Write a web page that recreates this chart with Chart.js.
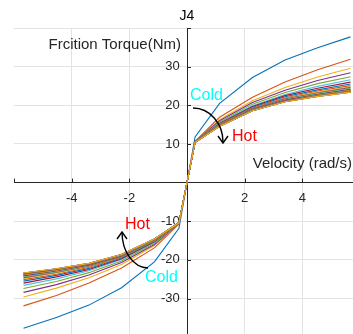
<!DOCTYPE html>
<html>
<head>
<meta charset="utf-8">
<script src="https://cdn.jsdelivr.net/npm/chart.js@4"></script>
<style>
  body { margin: 0; background: #fff; }
  .wrap { width: 353px; height: 334px; overflow: hidden; position: relative; }
  canvas { position: absolute; left: 0; top: 0; }
</style>
</head>
<body>
<div class="wrap"><canvas id="myChart" width="368" height="351"></canvas></div>
<script>
// velocity samples (rad/s)
const velocity = [-5.67, -4.53, -3.4, -2.27, -1.13, -0.28, 0, 0.28, 1.13, 2.27, 3.4, 4.53, 5.67];

// friction torque curves, first = cold ... last = hot
const torque = [
  [-37.7, -34.9, -31.7, -27.2, -20.5, -11.8, 0, 11.8, 20.5, 27.2, 31.7, 34.9, 37.7],
  [-31.9, -29.2, -26.0, -22.1, -16.9, -10.7, 0, 10.7, 16.9, 22.1, 26.0, 29.2, 31.9],
  [-29.6, -27.3, -24.6, -21.2, -16.3, -10.6, 0, 10.6, 16.3, 21.2, 24.6, 27.3, 29.6],
  [-28.4, -26.4, -23.9, -20.7, -16.0, -10.6, 0, 10.6, 16.0, 20.7, 23.9, 26.4, 28.4],
  [-27.4, -25.6, -23.3, -20.3, -15.7, -10.5, 0, 10.5, 15.7, 20.3, 23.3, 25.6, 27.4],
  [-26.6, -24.9, -22.8, -19.9, -15.5, -10.5, 0, 10.5, 15.5, 19.9, 22.8, 24.9, 26.6],
  [-26.0, -24.4, -22.5, -19.7, -15.3, -10.5, 0, 10.5, 15.3, 19.7, 22.5, 24.4, 26.0],
  [-25.5, -24.0, -22.2, -19.5, -15.2, -10.5, 0, 10.5, 15.2, 19.5, 22.2, 24.0, 25.5],
  [-25.1, -23.7, -21.9, -19.3, -15.1, -10.5, 0, 10.5, 15.1, 19.3, 21.9, 23.7, 25.1],
  [-24.8, -23.4, -21.7, -19.2, -15.0, -10.5, 0, 10.5, 15.0, 19.2, 21.7, 23.4, 24.8],
  [-24.6, -23.2, -21.6, -19.1, -14.9, -10.4, 0, 10.4, 14.9, 19.1, 21.6, 23.2, 24.6],
  [-24.4, -23.1, -21.5, -19.0, -14.9, -10.4, 0, 10.4, 14.9, 19.0, 21.5, 23.1, 24.4],
  [-24.2, -22.9, -21.4, -18.9, -14.8, -10.4, 0, 10.4, 14.8, 18.9, 21.4, 22.9, 24.2],
  [-24.1, -22.8, -21.3, -18.9, -14.8, -10.4, 0, 10.4, 14.8, 18.9, 21.3, 22.8, 24.1],
  [-24.0, -22.7, -21.2, -18.8, -14.7, -10.4, 0, 10.4, 14.7, 18.8, 21.2, 22.7, 24.0],
  [-23.9, -22.7, -21.2, -18.8, -14.7, -10.4, 0, 10.4, 14.7, 18.8, 21.2, 22.7, 23.9],
  [-23.8, -22.6, -21.1, -18.7, -14.7, -10.4, 0, 10.4, 14.7, 18.7, 21.1, 22.6, 23.8],
  [-23.7, -22.5, -21.1, -18.7, -14.7, -10.4, 0, 10.4, 14.7, 18.7, 21.1, 22.5, 23.7],
  [-23.6, -22.5, -21.0, -18.7, -14.7, -10.4, 0, 10.4, 14.7, 18.7, 21.0, 22.5, 23.6],
  [-23.5, -22.4, -21.0, -18.7, -14.6, -10.4, 0, 10.4, 14.6, 18.7, 21.0, 22.4, 23.5],
  [-23.5, -22.4, -21.0, -18.6, -14.6, -10.4, 0, 10.4, 14.6, 18.6, 21.0, 22.4, 23.5],
  [-23.4, -22.3, -20.9, -18.6, -14.6, -10.4, 0, 10.4, 14.6, 18.6, 20.9, 22.3, 23.4],
  [-23.4, -22.3, -20.9, -18.6, -14.6, -10.4, 0, 10.4, 14.6, 18.6, 20.9, 22.3, 23.4],
  [-23.4, -22.3, -20.9, -18.6, -14.6, -10.4, 0, 10.4, 14.6, 18.6, 20.9, 22.3, 23.4]
];

const xTicks = [-4, -2, 2, 4];
const yTicks = [-30, -20, -10, 10, 20, 30];

// matlab default line colours
const colors = ['#0072BD', '#D95319', '#EDB120', '#7E2F8E', '#77AC30', '#4DBEEE', '#A2142F'];
const axisColor = '#262626';
const font = '"Liberation Sans", Arial, sans-serif';

const datasets = torque.map((vals, i) => ({
  label: 'T' + i,
  data: velocity.map((v, j) => ({ x: v, y: vals[j] })),
  borderColor: colors[i % colors.length],
  borderWidth: 1.1,
  pointRadius: 0,
  tension: 0,
  fill: false,
  order: torque.length - 1 - i
}));

// texts, arrows and inward tick marks
const extras = {
  id: 'extras',
  beforeDatasetsDraw(chart) {
    const c = chart.ctx, xs = chart.scales.x, ys = chart.scales.y;
    const x0 = xs.getPixelForValue(0), y0 = ys.getPixelForValue(0);
    c.save();
    c.strokeStyle = axisColor;
    c.lineWidth = 1;
    c.beginPath();
    xs.ticks.forEach(t => {
      if (t.value === 0) return;
      const px = Math.round(xs.getPixelForValue(t.value)) + 0.5;
      c.moveTo(px, y0); c.lineTo(px, y0 - 4);
    });
    ys.ticks.forEach(t => {
      if (t.value === 0) return;
      const py = Math.round(ys.getPixelForValue(t.value)) + 0.5;
      c.moveTo(x0, py); c.lineTo(x0 + 4, py);
    });
    c.stroke();
    c.restore();
  },
  afterDraw(chart) {
    const c = chart.ctx;
    c.save();
    c.textBaseline = 'middle';
    c.fillStyle = '#000';
    c.font = '14px ' + font;
    c.textAlign = 'center';
    c.fillText('J4', 187, 16);

    c.fillStyle = axisColor;
    c.font = '15px ' + font;
    c.textAlign = 'right';
    c.fillText('Frcition Torque(Nm)', 181, 45);
    c.fillText('Velocity (rad/s)', 352, 164);

    c.font = '16px ' + font;
    c.textAlign = 'left';
    c.fillStyle = '#00FFFF';
    c.fillText('Cold', 190, 96);
    c.fillText('Cold', 145, 278);
    c.fillStyle = '#FF0000';
    c.fillText('Hot', 232, 137);
    c.fillText('Hot', 125, 225);

    c.strokeStyle = '#000';
    c.lineWidth = 1.4;
    // upper arrow, cold -> hot
    c.beginPath();
    c.ellipse(193, 142, 30, 34, 0, -Math.PI / 2, 0);
    c.stroke();
    c.beginPath();
    c.moveTo(218, 136); c.lineTo(223, 143); c.lineTo(228, 136);
    c.stroke();
    // lower arrow, cold -> hot
    c.beginPath();
    c.ellipse(148, 232, 26, 36, 0, Math.PI / 2, Math.PI);
    c.stroke();
    c.beginPath();
    c.moveTo(117, 239); c.lineTo(122, 232); c.lineTo(127, 239);
    c.stroke();
    c.restore();
  }
};

new Chart(document.getElementById('myChart'), {
  type: 'line',
  data: { datasets },
  options: {
    responsive: false,
    animation: false,
    devicePixelRatio: 1,
    layout: { padding: { left: 14, top: 28, right: 1.5, bottom: 2 } },
    plugins: { legend: { display: false }, tooltip: { enabled: false } },
    scales: {
      x: {
        type: 'linear',
        position: { y: 0 },
        min: -6, max: 6,
        ticks: {
          stepSize: 2,
          color: axisColor,
          font: { family: font, size: 13 },
          padding: 8,
          maxRotation: 0,
          callback: v => xTicks.includes(v) ? String(v) : ''
        },
        grid: {
          drawTicks: false,
          color: ctx => (ctx.tick && Math.abs(ctx.tick.value) === 6) ? 'rgba(0,0,0,0)' : '#e3e3e3'
        },
        border: { color: axisColor, width: 1 }
      },
      y: {
        type: 'linear',
        position: { x: 0 },
        min: -40, max: 40,
        ticks: {
          stepSize: 10,
          color: axisColor,
          font: { family: font, size: 13 },
          padding: 6,
          callback: v => yTicks.includes(v) ? String(v) + '  ' : ''
        },
        grid: { drawTicks: false, color: '#e3e3e3' },
        border: { color: axisColor, width: 1 }
      }
    }
  },
  plugins: [extras]
});
</script>
</body>
</html>
